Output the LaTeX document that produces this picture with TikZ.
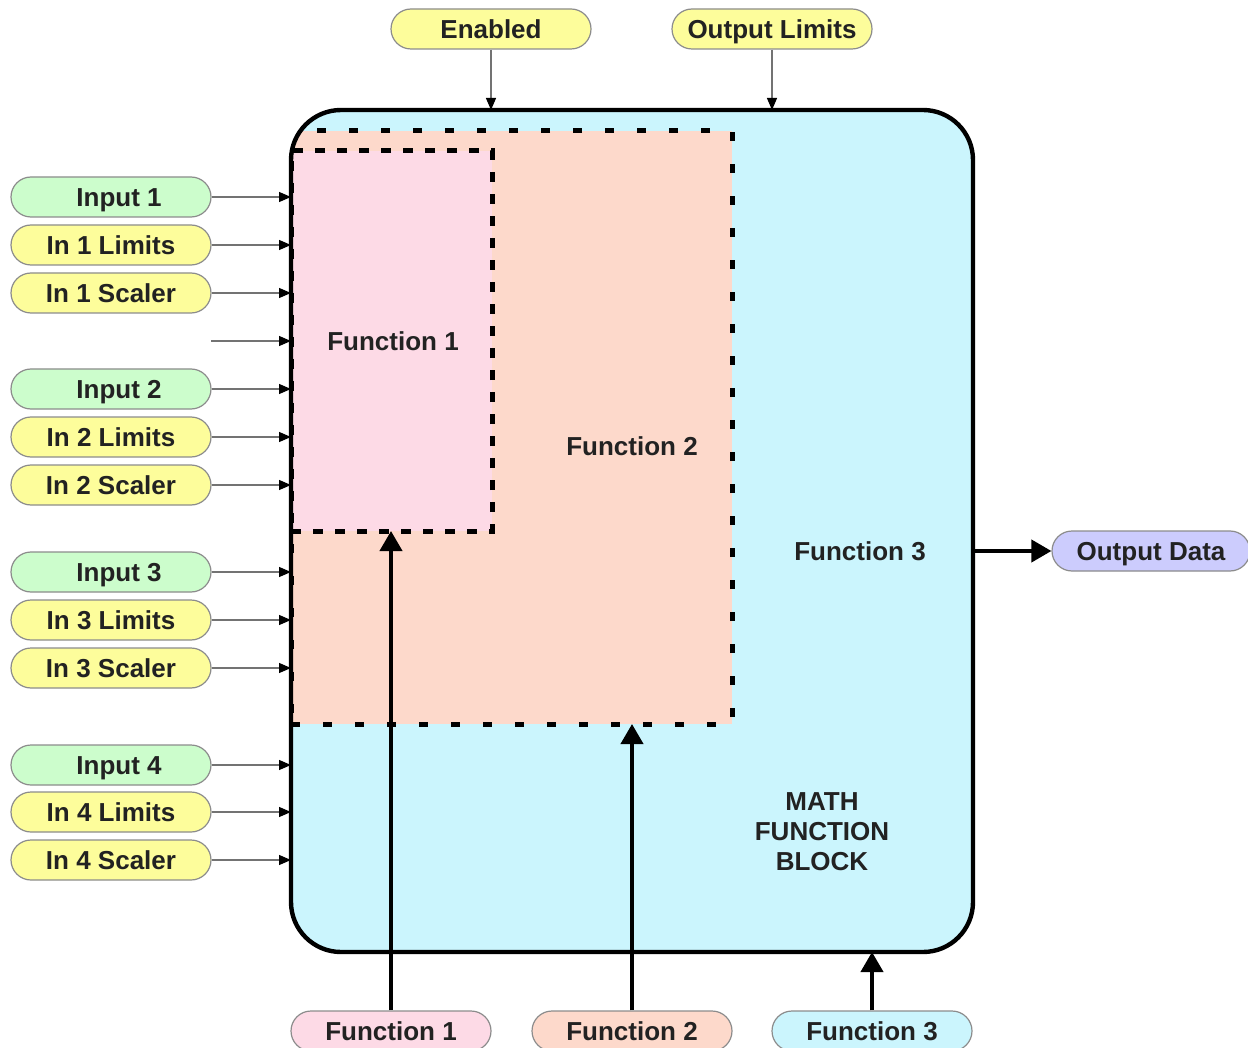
\documentclass[tikz,border=0pt]{standalone}
\usepackage{fontspec}
\setmainfont{Liberation Sans}
\usetikzlibrary{arrows.meta}
\definecolor{txt}{HTML}{222222}
\definecolor{pgreen}{HTML}{CCFDCC}
\definecolor{pyellow}{HTML}{FDFD9B}
\definecolor{plav}{HTML}{CCCCFD}
\definecolor{ppink}{HTML}{FDDAE6}
\definecolor{ppeach}{HTML}{FDD9CB}
\definecolor{pcyan}{HTML}{CBF5FD}
\definecolor{pborder}{HTML}{8C8C8C}
\tikzset{
  pill/.style={draw=pborder, line width=0.6pt, rounded corners=10pt, minimum width=100pt,
    minimum height=20pt, inner sep=0pt, text height=10.7pt, text depth=1.3pt,
    font=\fontsize{13}{15}\selectfont\bfseries, text=txt},
  greenpill/.style={pill, fill=pgreen},
  yellowpill/.style={pill, fill=pyellow},
  thinarrow/.style={draw=black!55, line width=0.6pt, -{Triangle[length=6pt,width=5pt,fill=black,color=black]}},
  thickarrow/.style={draw=black, line width=2pt, -{Triangle[length=10pt,width=11pt]}},
  lbl/.style={font=\fontsize{13}{15}\selectfont\bfseries, text=txt, align=center},
  regionF2/.style={fill=ppeach, draw=black, line width=2.5pt, dash pattern=on 4.5pt off 11.5pt},
  regionF1/.style={fill=ppink, draw=black, line width=2.5pt, dash pattern=on 5pt off 6pt},
}
\begin{document}
\begin{tikzpicture}[x=0.5pt, y=-0.5pt]
\useasboundingbox (0,0) rectangle (1248,1048);
\clip (0,0) rectangle (1248,1048);
% main block fill
\node[draw=none, fill=pcyan, rounded corners=25pt, minimum width=341pt, minimum height=421pt,
      inner sep=0pt, outer sep=0pt] (main) at (632,531) {};
\begin{scope}
  \clip[rounded corners=25pt] (291,110) rectangle (973,952);
  \node[regionF2, minimum width=220.5pt, minimum height=296.5pt, inner sep=0pt, outer sep=0pt] (f2) at (511.5,427.5) {};
  \node[regionF1, minimum width=100.5pt, minimum height=190pt, inner sep=0pt, outer sep=0pt] (f1) at (391.5,341) {};
\end{scope}
\draw[black, line width=2.2pt, rounded corners=25pt] (291,110) rectangle (973,952);
% inner labels
\node[lbl] (lf1) at (393,341) {Function 1};
\node[lbl] (lf2) at (632,446) {Function 2};
\node[lbl] (lf3) at (860,551) {Function 3};
\node[lbl] (lmath) at (822,832) {MATH\\FUNCTION\\BLOCK};
% top pills
\node[yellowpill] (en) at (491,29) {Enabled};
\node[yellowpill] (ol) at (772,29) {Output Limits};
\draw[thinarrow] (en.south) -- (en.south |- main.north);
\draw[thinarrow] (ol.south) -- (ol.south |- main.north);
% left pills
\node[greenpill] (i1) at (111,197) {\hspace{8pt}Input 1};
\node[yellowpill] (l1) at (111,245) {In 1 Limits};
\node[yellowpill] (s1) at (111,293) {In 1 Scaler};
\coordinate (blank) at (211,341);
\node[greenpill] (i2) at (111,389) {\hspace{8pt}Input 2};
\node[yellowpill] (l2) at (111,437) {In 2 Limits};
\node[yellowpill] (s2) at (111,485) {In 2 Scaler};
\node[greenpill] (i3) at (111,572) {\hspace{8pt}Input 3};
\node[yellowpill] (l3) at (111,620) {In 3 Limits};
\node[yellowpill] (s3) at (111,668) {In 3 Scaler};
\node[greenpill] (i4) at (111,765) {\hspace{8pt}Input 4};
\node[yellowpill] (l4) at (111,812) {In 4 Limits};
\node[yellowpill] (s4) at (111,860) {In 4 Scaler};
\foreach \n in {i1,l1,s1,i2,l2,s2,i3,l3,s3,i4,l4,s4}{
  \draw[thinarrow] (\n.east) -- (\n.east -| main.west);
}
\draw[thinarrow] (blank) -- (blank -| main.west);
% output
\node[pill, fill=plav, minimum width=99pt] (out) at (1151,551) {Output Data};
\draw[thickarrow] (main.east |- out.west) -- (out.west);
% bottom pills
\node[pill, fill=ppink] (b1) at (391,1031) {Function 1};
\node[pill, fill=ppeach] (b2) at (632,1031) {Function 2};
\node[pill, fill=pcyan] (b3) at (872,1031) {Function 3};
\draw[thickarrow] (b1.north) -- (b1.north |- f1.south);
\draw[thickarrow] (b2.north) -- (b2.north |- f2.south);
\draw[thickarrow] (b3.north) -- (b3.north |- main.south);
\end{tikzpicture}
\end{document}
